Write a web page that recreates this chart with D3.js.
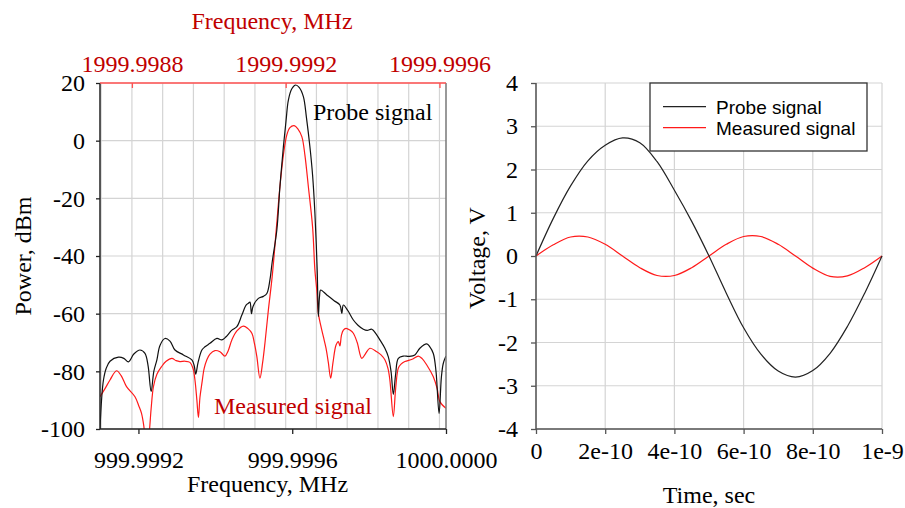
<!DOCTYPE html>
<html>
<head>
<meta charset="utf-8">
<script src="https://cdn.jsdelivr.net/npm/d3@7"></script>
<style>
  body { margin: 0; background: #fff; }
  svg { display: block; }
  text { font-family: "Liberation Serif", "Times New Roman", serif; }
  .legend text { font-family: "Liberation Sans", Arial, sans-serif; }
</style>
</head>
<body>
<svg id="chart" width="905" height="508"></svg>
<script>
//Spectrum data: frequency offsets in Hz from the centre frequency, power in dBm
const centreMHz = 999.9996;

const probeOffsetHz = [
  -500, -496, -491, -484, -474, -452, -438, -426, -412, -396, -383, -375, -367, -360,
  -352, -344, -331, -318, -305, -283, -261, -255, -251, -245, -235, -227, -214, -196,
  -183, -172, -157, -144, -131, -120, -114, -110, -106, -102, -88, -75, -66, -58, -52,
  -40, -32, -23, -16, -10, -1, 9, 18, 29, 37, 46, 53, 59, 65, 68, 71, 74, 90, 109, 124,
  129, 133, 145, 159, 171, 185, 195, 207, 218, 228, 241, 250, 257, 263, 269, 276, 289,
  304, 319, 332, 350, 358, 367, 374, 382, 388, 393, 400
];
const probePower = [
  -100, -90, -83, -79, -76.5, -75.1, -75.5, -76.7, -74, -72.6, -73.8, -78, -87, -80,
  -76, -71, -68.6, -69.5, -72.6, -74.3, -76, -78, -81, -77, -72.6, -71.5, -70.3, -68.6,
  -69.1, -68, -65.7, -64.5, -60.5, -57, -56.4, -56, -60, -57.5, -54.7, -54, -53, -48.3, -42,
  -31, -16, -2.1, 7, 14.1, 18, 19.3, 18.5, 15.3, 8, -2.1, -12, -25.2, -45, -61, -54, -51.8, -53.5, -55.5, -57,
  -59.9, -57, -59, -62.2, -64, -65.4, -65.8, -65.4, -67, -69.1, -72, -75, -80, -88, -81, -75.5, -74.7,
  -74.8, -74.3, -72, -70.5, -71.5, -73.8, -80, -94.6, -82, -77.2, -74.7
];

const measuredOffsetHz = [
  -500, -487, -474, -457, -445, -431, -409, -399, -392, -386, -380, -375, -371, -367,
  -361, -352, -340, -328, -313, -302, -292, -279, -266, -258, -253, -248, -244, -240,
  -235, -229, -222, -214, -201, -188, -175, -167, -157, -144, -127, -115, -105, -98,
  -92, -84, -77, -71, -62, -52, -41, -32, -23, -14, -6, 5, 15, 25, 33, 42, 53, 59, 64,
  68, 74, 81, 88, 94, 100, 106, 114, 120, 124, 128, 133, 140, 150, 159, 169, 181, 190,
  202, 220, 231, 241, 249, 254, 263, 269, 276, 283, 293, 312, 328, 338, 350, 367, 377,
  384, 400
];
const measuredPower = [
  -88.8, -86, -83, -79.8, -81.5, -85.3, -88.8, -92, -94.6, -99, -106, -106, -100, -93,
  -85.3, -81, -78.4, -76.5, -75.5, -76.3, -76.6, -76.5, -76.9, -79, -83, -90, -96, -89,
  -84.2, -79, -76, -74, -72.8, -73.2, -74.7, -73, -69.1, -66, -64.3, -65.2, -66.8, -70.5,
  -74.9, -82.4, -77, -70.3, -58.7, -47, -30, -16, -5, 2, 4.5, 5.2, 4, 1.4, -5, -16, -30, -44.9, -52,
  -59.9, -64, -68, -72, -77, -82.4, -77, -70.9, -69.7, -71.2, -67.5, -65.7, -65.1, -65.7, -66.8, -70, -75.5, -74,
  -72, -73.2, -74.3, -76, -79, -83, -95.7, -86, -78.9, -77.5, -76.6, -75.8, -74.7, -75.6, -77.8, -81.9, -86,
  -90.5, -92.8
];

const freqTicks = [999.9992, 999.9996, 1000.0];
const topFreqTicks = [1999.9988, 1999.9992, 1999.9996];
const powerTicks = [20, 0, -20, -40, -60, -80, -100];

//Time domain data
const timeSec = [
  0, 0.5e-10, 1e-10, 1.5e-10, 2e-10, 2.5e-10, 3e-10, 3.5e-10, 4e-10, 4.5e-10, 5e-10,
  5.5e-10, 6e-10, 6.5e-10, 7e-10, 7.5e-10, 8e-10, 8.5e-10, 9e-10, 9.5e-10, 1e-9
];
const probeVoltage = [
  0, 0.87, 1.62, 2.2, 2.56, 2.73, 2.62, 2.18, 1.52, 0.8, 0,
  -0.86, -1.66, -2.27, -2.66, -2.8, -2.65, -2.25, -1.63, -0.86, 0
];
const measuredVoltage = [
  0, 0.26, 0.44, 0.44, 0.27, 0, -0.27, -0.45, -0.45, -0.27, 0,
  0.27, 0.45, 0.45, 0.27, 0, -0.28, -0.47, -0.46, -0.27, 0
];
const timeTicks = [0, 2e-10, 4e-10, 6e-10, 8e-10, 1e-9];
const timeTickLabels = ["0", "2e-10", "4e-10", "6e-10", "8e-10", "1e-9"];
const voltageTicks = [4, 3, 2, 1, 0, -1, -2, -3, -4];

const svg = d3.select("#chart");
const gridColor = "#d4d4d4";
const darkRed = "#c00000";

//plain hyphen for negatives, like the original plot
const plainNum = (d) => String(d);

function styleAxis(g, size) {
  g.select(".domain").remove();
  g.selectAll("text").attr("font-size", size).attr("font-family", "Liberation Serif, Times New Roman, serif");
}

// ---------------- Left: spectrum ----------------
const left = { x0: 100, x1: 446, y0: 83, y1: 429 };

const xBot = d3.scaleLinear().domain([999.9991, 1000.0]).range([left.x0, left.x1]);
const xTop = d3.scaleLinear().domain([1999.998717, 1999.999617]).range([left.x0, left.x1]);
const yPow = d3.scaleLinear().domain([-100, 20]).range([left.y1, left.y0]);

//grid: vertical lines follow the upper frequency axis
const topGrid = d3.range(-1, 11).map((k) => 1999.9988 + k * 0.00008);
svg.append("g").selectAll("line").data(topGrid).join("line")
  .attr("x1", (d) => xTop(d)).attr("x2", (d) => xTop(d))
  .attr("y1", left.y0).attr("y2", left.y1)
  .attr("stroke", gridColor).attr("stroke-width", 1.2);
svg.append("g").selectAll("line").data(powerTicks).join("line")
  .attr("x1", left.x0).attr("x2", left.x1)
  .attr("y1", (d) => yPow(d)).attr("y2", (d) => yPow(d))
  .attr("stroke", gridColor).attr("stroke-width", 1.2);

svg.append("clipPath").attr("id", "clipL").append("rect")
  .attr("x", left.x0).attr("y", left.y0)
  .attr("width", left.x1 - left.x0).attr("height", left.y1 - left.y0);

const specLine = d3.line()
  .x((d) => xBot(d[0]))
  .y((d) => yPow(d[1]))
  .curve(d3.curveCatmullRom.alpha(0.5));

const probeSpec = probeOffsetHz.map((f, i) => [centreMHz + f * 1e-6, probePower[i]]);
const measSpec = measuredOffsetHz.map((f, i) => [centreMHz + f * 1e-6, measuredPower[i]]);

const specG = svg.append("g").attr("clip-path", "url(#clipL)");
specG.append("path").attr("d", specLine(measSpec))
  .attr("fill", "none").attr("stroke", "#ff1a1a").attr("stroke-width", 1.2);
specG.append("path").attr("d", specLine(probeSpec))
  .attr("fill", "none").attr("stroke", "#111").attr("stroke-width", 1.2);

//spines
svg.append("line").attr("x1", left.x1).attr("x2", left.x1).attr("y1", left.y0).attr("y2", left.y1)
  .attr("stroke", "#777").attr("stroke-width", 1.5);
svg.append("line").attr("x1", left.x0).attr("x2", left.x1).attr("y1", left.y1).attr("y2", left.y1)
  .attr("stroke", "#222").attr("stroke-width", 1.5);
svg.append("line").attr("x1", left.x0).attr("x2", left.x0).attr("y1", left.y0).attr("y2", left.y1)
  .attr("stroke", "#222").attr("stroke-width", 1.5);
svg.append("line").attr("x1", left.x0).attr("x2", left.x1).attr("y1", left.y0).attr("y2", left.y0)
  .attr("stroke", "#ff5050").attr("stroke-width", 1.5);

//axes
svg.append("g").attr("transform", `translate(0,${left.y1})`)
  .call(d3.axisBottom(xBot).tickValues(freqTicks).tickFormat(d3.format(".4f")).tickSize(5).tickPadding(17))
  .call((g) => styleAxis(g, 24))
  .call((g) => g.selectAll("line").attr("stroke", "#222").attr("stroke-width", 1.3));

svg.append("g").attr("transform", `translate(0,${left.y0})`)
  .call(d3.axisTop(xTop).tickValues(topFreqTicks).tickFormat(d3.format(".4f")).tickSizeInner(-5).tickSizeOuter(0).tickPadding(11.5))
  .call((g) => styleAxis(g, 24))
  .call((g) => g.selectAll("line").attr("stroke", "#ff5050").attr("stroke-width", 1.3))
  .call((g) => g.selectAll("text").attr("fill", darkRed));

svg.append("g").attr("transform", `translate(${left.x0},0)`)
  .call(d3.axisLeft(yPow).tickValues(powerTicks).tickFormat(plainNum).tickSize(4).tickPadding(11))
  .call((g) => styleAxis(g, 24))
  .call((g) => g.selectAll("line").attr("stroke", "#222").attr("stroke-width", 1.3));

//titles and annotations
svg.append("text").attr("x", 272).attr("y", 29).attr("text-anchor", "middle")
  .attr("font-size", 24).attr("fill", darkRed).text("Frequency, MHz");
svg.append("text").attr("x", 267.5).attr("y", 492).attr("text-anchor", "middle")
  .attr("font-size", 24).text("Frequency, MHz");
svg.append("text").attr("transform", "translate(31,256) rotate(-90)").attr("text-anchor", "middle")
  .attr("font-size", 24).text("Power, dBm");
svg.append("text").attr("x", 313).attr("y", 120).attr("font-size", 24).text("Probe signal");
svg.append("text").attr("x", 214).attr("y", 414).attr("font-size", 24).attr("fill", darkRed)
  .text("Measured signal");

// ---------------- Right: time domain ----------------
const right = { x0: 536, x1: 882, y0: 83, y1: 429 };

const xTime = d3.scaleLinear().domain([0, 1e-9]).range([right.x0, right.x1]);
const yVolt = d3.scaleLinear().domain([-4, 4]).range([right.y1, right.y0]);

svg.append("g").selectAll("line").data(timeTicks).join("line")
  .attr("x1", (d) => xTime(d)).attr("x2", (d) => xTime(d))
  .attr("y1", right.y0).attr("y2", right.y1)
  .attr("stroke", gridColor).attr("stroke-width", 1.2);
svg.append("g").selectAll("line").data(voltageTicks).join("line")
  .attr("x1", right.x0).attr("x2", right.x1)
  .attr("y1", (d) => yVolt(d)).attr("y2", (d) => yVolt(d))
  .attr("stroke", gridColor).attr("stroke-width", 1.2);

const voltLine = d3.line()
  .x((d) => xTime(d[0]))
  .y((d) => yVolt(d[1]))
  .curve(d3.curveCatmullRom.alpha(0.5));

svg.append("path").attr("d", voltLine(timeSec.map((t, i) => [t, measuredVoltage[i]])))
  .attr("fill", "none").attr("stroke", "#ff1a1a").attr("stroke-width", 1.2);
svg.append("path").attr("d", voltLine(timeSec.map((t, i) => [t, probeVoltage[i]])))
  .attr("fill", "none").attr("stroke", "#222").attr("stroke-width", 1.2);

svg.append("line").attr("x1", right.x0).attr("x2", right.x0).attr("y1", right.y0).attr("y2", right.y1)
  .attr("stroke", "#555").attr("stroke-width", 1.5);
svg.append("line").attr("x1", right.x0).attr("x2", right.x1).attr("y1", right.y1).attr("y2", right.y1)
  .attr("stroke", "#555").attr("stroke-width", 1.5);

svg.append("g").attr("transform", `translate(0,${right.y1})`)
  .call(d3.axisBottom(xTime).tickValues(timeTicks).tickFormat((d, i) => timeTickLabels[i]).tickSize(5).tickPadding(8))
  .call((g) => styleAxis(g, 24))
  .call((g) => g.selectAll("line").attr("stroke", "#555").attr("stroke-width", 1.3));

svg.append("g").attr("transform", `translate(${right.x0},0)`)
  .call(d3.axisLeft(yVolt).tickValues(voltageTicks).tickFormat(plainNum).tickSize(5).tickPadding(13))
  .call((g) => styleAxis(g, 24))
  .call((g) => g.selectAll("line").attr("stroke", "#555").attr("stroke-width", 1.3));

svg.append("text").attr("x", 709).attr("y", 503).attr("text-anchor", "middle")
  .attr("font-size", 24).text("Time, sec");
svg.append("text").attr("transform", "translate(485,258) rotate(-90)").attr("text-anchor", "middle")
  .attr("font-size", 24).text("Voltage, V");

//legend
const legend = svg.append("g").attr("class", "legend");
legend.append("rect").attr("x", 650).attr("y", 83).attr("width", 217).attr("height", 68)
  .attr("fill", "#fff").attr("stroke", "#333").attr("stroke-width", 1.3);
const legendItems = [
  { name: "Probe signal", color: "#222" },
  { name: "Measured signal", color: "#ff1a1a" }
];
legendItems.forEach((item, i) => {
  const y = 106.7 + i * 21;
  legend.append("line").attr("x1", 663).attr("x2", 706).attr("y1", y).attr("y2", y)
    .attr("stroke", item.color).attr("stroke-width", 1.2);
  legend.append("text").attr("x", 716).attr("y", y + 7).attr("font-size", 19)
    .attr("font-family", "Liberation Sans, Arial, sans-serif").text(item.name);
});
</script>
</body>
</html>
